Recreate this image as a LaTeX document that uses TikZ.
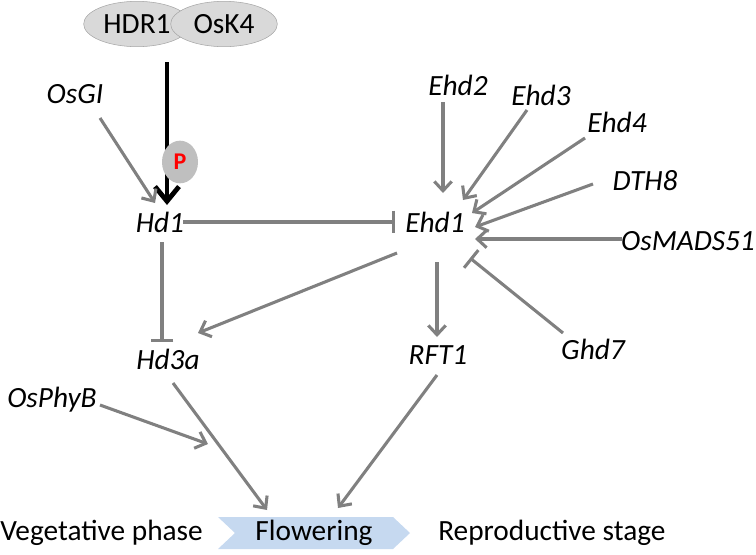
\documentclass[tikz,border=0pt]{standalone}
\usepackage{fontspec}
\setmainfont{Carlito}
\usetikzlibrary{arrows.meta,shapes.geometric,calc}

\definecolor{linegray}{RGB}{128,128,128}
\definecolor{ovalgray}{RGB}{217,217,217}
\definecolor{pgray}{RGB}{191,191,191}
\definecolor{flowblue}{RGB}{198,217,240}

\begin{document}
\begin{tikzpicture}[x=0.75pt, y=-0.75pt, font=\fontsize{22}{26}\selectfont,
    gene/.style={font=\fontsize{22}{26}\selectfont\itshape, inner sep=1pt},
    act/.style={draw=linegray, line width=2.3pt, -{Straight Barb[length=7pt,width=13pt]}},
    inh/.style={draw=linegray, line width=2.3pt, -{Bar[width=17pt]}},
    protein/.style={ellipse, draw=gray!70, fill=ovalgray, minimum width=80pt, minimum height=34pt, inner sep=0pt}]
  \useasboundingbox (0,0) rectangle (756,554);
  % complex on top
  \node[protein] (hdr1) at (137,24) {HDR1};
  \node[protein] (osk4) at (224,24) {OsK4};
  % genes
  \node[gene] (osgi) at (75,94) {OsGI};
  \node[gene] (hd1) at (160,222) {Hd1};
  \node[gene] (ehd1) at (435,222) {Ehd1};
  \node[gene] (ehd2) at (458,85) {Ehd2};
  \node[gene] (ehd3) at (541,95) {Ehd3};
  \node[gene] (ehd4) at (617,122) {Ehd4};
  \node[gene] (dth8) at (645,181) {DTH8};
  \node[gene] (osmads) at (688,241) {OsMADS51};
  \node[gene] (ghd7) at (593,349) {Ghd7};
  \node[gene] (hd3a) at (168,359) {Hd3a};
  \node[gene] (rft1) at (438,355) {RFT1};
  \node[gene] (osphyb) at (52,400) {OsPhyB};
  \coordinate (phy) at (208,444);
  % phases
  \fill[flowblue] (218,517) -- (393,517) -- (410,533) -- (393,549) -- (218,549) -- (235,533) -- cycle;
  \node (flower) at (314,533) {Flowering};
  \node[anchor=west, inner sep=0pt] (veg) at (0,533) {Vegetative phase};
  \node[anchor=west, inner sep=0pt] (repro) at (438,533) {Reproductive stage};
  % phosphorylation
  \draw[line width=3.6pt, -{Straight Barb[length=11pt,width=18pt]}] ($(osk4)+(-57,38)$) -- ($(hd1)+(7,-17)$);
  \node[ellipse, fill=pgray, minimum width=27pt, minimum height=32pt, inner sep=0pt,
        text=red, font=\fontsize{18}{18}\selectfont\bfseries] (p) at (180,162) {P};
  % connectors
  \draw[act] ($(osgi)+(25,24)$) -- ($(hd1)+(-5,-19)$);
  \draw[inh] ($(hd1)+(23,0)$) -- ($(ehd1)+(-40,0)$);
  \draw[inh] ($(hd1)+(2,20)$) -- ($(hd3a)+(-6,-17)$);
  \draw[act] ($(ehd2)+(-15,17)$) -- ($(ehd1)+(8,-29)$);
  \draw[act] ($(ehd3)+(-14,15)$) -- ($(ehd1)+(28,-22)$);
  \draw[act] ($(ehd4)+(-32,16)$) -- ($(ehd1)+(37,-9)$);
  \draw[act] ($(dth8)+(-52,3)$) -- ($(ehd1)+(40,5)$);
  \draw[act] ($(osmads)+(-66,-2)$) -- ($(ehd1)+(40,17)$);
  \draw[inh] ($(ghd7)+(-30,-16)$) -- ($(ehd1)+(35,36)$);
  \draw[act] ($(ehd1)+(-38,31)$) -- ($(hd3a)+(30,-26)$);
  \draw[act] ($(ehd1)+(2,40)$) -- ($(rft1)+(-1,-18)$);
  \draw[act] ($(osphyb)+(48,5)$) -- (phy);
  \draw[act] ($(hd3a)+(5,24)$) -- ($(flower)+(-47,-23)$);
  \draw[act] ($(rft1)+(-1,20)$) -- ($(flower)+(24,-25)$);
\end{tikzpicture}
\end{document}
